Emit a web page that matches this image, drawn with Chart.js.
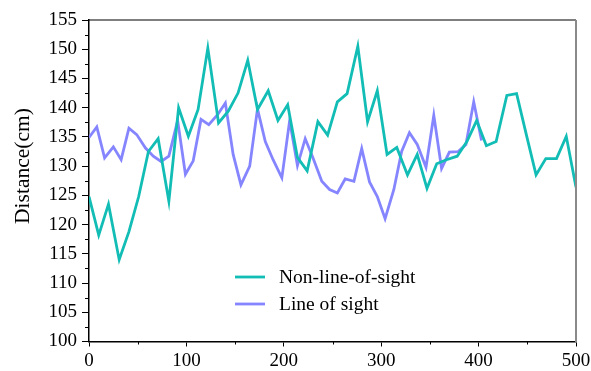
<!DOCTYPE html>
<html>
<head>
<meta charset="utf-8">
<script src="https://cdn.jsdelivr.net/npm/chart.js@4.4.0/dist/chart.umd.min.js"></script>
<style>
  html, body { margin: 0; padding: 0; background: #fff; }
</style>
</head>
<body>
<canvas id="chart" width="591" height="371"></canvas>
<script>
// Series labels
const NLOS_LABEL = 'Non-line-of-sight';
const LOS_LABEL = 'Line of sight';

// Non-line-of-sight series (x positions, distances)
const nlosX = [0, 10, 20, 31, 41, 51, 61, 71, 82, 92, 102, 112, 122, 133, 143, 153, 163, 173, 184, 194,
               204, 214, 224, 235, 245, 255, 265, 276, 286, 296, 306, 316, 327, 337, 347, 357, 367, 378, 388, 398,
               408, 418, 429, 439, 449, 459, 469, 480, 490, 500];
const nlosY = [124.8, 118.2, 123.5, 114.0, 118.8, 124.8, 132.5, 134.7, 124.0, 140.0,
               135.1, 139.7, 150.2, 137.4, 139.4, 142.5, 148.1, 139.7, 142.9, 137.8,
               140.5, 131.5, 129.2, 137.6, 135.3, 141.0, 142.4, 150.5, 137.6, 142.9,
               132.0, 133.2, 128.5, 132.0, 126.2, 130.4, 131.1, 131.7, 134.2, 137.8,
               133.5, 134.2, 142.1, 142.4, 135.4, 128.5, 131.3, 131.3, 135.1, 126.4];

// Line-of-sight series
const losX = [0, 8, 16, 25, 33, 41, 49, 58, 66, 74, 82, 91, 99, 107, 115, 123, 132, 140, 148, 156,
              165, 173, 181, 189, 198, 206, 214, 222, 230, 239, 247, 255, 263, 272, 280, 288, 296, 304, 313, 321,
              329, 337, 346, 354, 362, 370, 379, 387, 395, 403];
const losY = [134.9, 136.7, 131.4, 133.3, 131.1, 136.5, 135.4, 133.1, 131.7, 130.8,
              131.7, 137.8, 128.6, 130.9, 138.0, 137.1, 138.8, 140.8, 132.0, 126.8,
              130.0, 139.8, 134.2, 131.1, 128.0, 137.8, 130.1, 134.7, 131.4, 127.4,
              126.0, 125.4, 127.8, 127.4, 133.0, 127.3, 124.8, 121.0, 126.0, 132.5,
              135.7, 133.7, 129.8, 138.7, 129.6, 132.4, 132.5, 133.7, 141.0, 134.4];

// Axis ticks
const xMinorTicks = [50, 150, 250, 350, 450];
const yMinorTicks = [102.5, 107.5, 112.5, 117.5, 122.5, 127.5, 132.5, 137.5, 142.5, 147.5, 152.5];

const TEAL = '#12bdb5';
const PURPLE = '#8585ff';
const SERIF = '"Liberation Serif", "Times New Roman", serif';

function toPoints(xs, ys) {
    return xs.map((x, i) => ({ x: x, y: ys[i] }));
}

// Frame, minor ticks, legend and axis title
const framePlugin = {
    id: 'frame',
    afterDraw(chart) {
        const { ctx, chartArea: a, scales } = chart;
        const line = (x1, y1, x2, y2) => {
            ctx.beginPath();
            ctx.moveTo(x1, y1);
            ctx.lineTo(x2, y2);
            ctx.stroke();
        };
        ctx.save();

        // top and right border
        ctx.strokeStyle = '#000';
        ctx.lineWidth = 1.2;
        line(a.left, a.top, a.right, a.top);
        ctx.strokeStyle = '#8a8a8a';
        ctx.lineWidth = 2;
        line(a.right, a.top, a.right, a.bottom + 1);

        // minor ticks
        ctx.strokeStyle = '#000';
        ctx.lineWidth = 1;
        yMinorTicks.forEach(v => {
            const py = Math.round(scales.y.getPixelForValue(v)) + 0.5;
            line(a.left - 4, py, a.left, py);
        });
        xMinorTicks.forEach(v => {
            const px = Math.round(scales.x.getPixelForValue(v)) + 0.5;
            line(px, a.bottom, px, a.bottom + 3);
        });

        // legend
        ctx.font = '19.5px ' + SERIF;
        ctx.fillStyle = '#000';
        ctx.textBaseline = 'middle';
        ctx.textAlign = 'left';
        chart.data.datasets.forEach((ds, i) => {
            const ly = a.top + 257 + i * 27;
            ctx.strokeStyle = ds.borderColor;
            ctx.lineWidth = 2.8;
            line(a.left + 146, ly, a.left + 176, ly);
            ctx.fillText(ds.label, a.left + 190, ly + 1);
        });

        // y axis title
        ctx.translate(23, a.top + 146);
        ctx.rotate(-Math.PI / 2);
        ctx.textAlign = 'center';
        ctx.font = '21.5px ' + SERIF;
        ctx.fillText('Distance(cm)', 0, 0);

        ctx.restore();
    }
};

const tickFont = { family: SERIF, size: 19 };

new Chart(document.getElementById('chart'), {
    type: 'line',
    data: {
        datasets: [
            {
                label: NLOS_LABEL,
                data: toPoints(nlosX, nlosY),
                borderColor: TEAL,
                backgroundColor: TEAL,
                borderWidth: 2.8,
                pointRadius: 0,
                tension: 0
            },
            {
                label: LOS_LABEL,
                data: toPoints(losX, losY),
                borderColor: PURPLE,
                backgroundColor: PURPLE,
                borderWidth: 2.8,
                pointRadius: 0,
                tension: 0
            }
        ]
    },
    options: {
        responsive: false,
        animation: false,
        layout: { padding: { top: 20, right: 15, left: 0, bottom: 0 } },
        plugins: {
            legend: { display: false },
            tooltip: { enabled: false }
        },
        scales: {
            x: {
                type: 'linear',
                min: 0,
                max: 500,
                ticks: { stepSize: 100, color: '#000', font: tickFont, padding: 3, maxRotation: 0 },
                grid: { drawOnChartArea: false, tickLength: 5, tickColor: '#000', tickWidth: 1 },
                border: { color: '#000', width: 1.5 },
                afterFit(scale) {
                    scale.height = 29.5;
                    scale.paddingLeft = 0;
                    scale.paddingRight = 0;
                }
            },
            y: {
                min: 100,
                max: 155,
                ticks: { stepSize: 5, color: '#000', font: tickFont, padding: 5 },
                grid: { drawOnChartArea: false, tickLength: 7, tickColor: '#000', tickWidth: 1 },
                border: { color: '#000', width: 1.5 },
                afterFit(scale) {
                    scale.width = 89;
                    scale.paddingTop = 0;
                    scale.paddingBottom = 0;
                }
            }
        }
    },
    plugins: [framePlugin]
});
</script>
</body>
</html>
